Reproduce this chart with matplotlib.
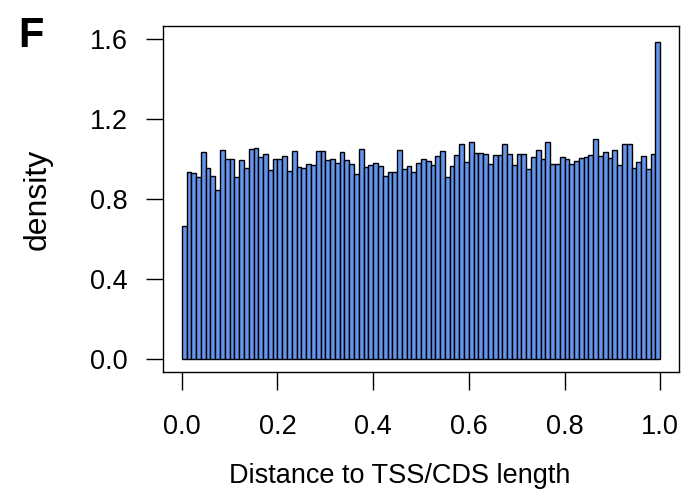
import matplotlib
matplotlib.use('Agg')
import matplotlib.pyplot as plt
import numpy as np

plt.rcParams['font.family'] = ['Liberation Sans', 'DejaVu Sans']

# histogram: 100 bins of width 0.01 on [0, 1]
bin_width = 0.01
bin_left = np.arange(100) * bin_width
density = [
    0.667, 0.938, 0.933, 0.913, 1.038, 0.955, 0.917, 0.845, 1.048, 1.000,
    1.000, 0.913, 0.997, 0.958, 1.050, 1.058, 1.010, 1.028, 0.948, 1.000,
    1.000, 1.017, 0.940, 1.040, 0.960, 0.955, 0.975, 0.970, 1.042, 1.042,
    0.995, 1.000, 0.983, 1.038, 0.995, 0.978, 0.928, 1.050, 0.960, 0.972,
    0.983, 0.968, 0.917, 0.937, 0.937, 1.047, 0.950, 0.967, 0.937, 0.980,
    1.000, 0.990, 0.972, 1.017, 1.042, 0.913, 0.965, 1.020, 1.075, 0.985,
    1.085, 1.033, 1.030, 1.027, 0.978, 1.022, 1.022, 1.075, 1.028, 0.972,
    1.025, 1.025, 0.952, 1.012, 1.047, 1.003, 1.085, 0.975, 0.977, 1.012,
    1.003, 0.975, 0.990, 1.005, 1.013, 1.022, 1.103, 1.017, 1.035, 1.008,
    1.045, 0.972, 1.077, 1.075, 0.958, 0.987, 1.017, 0.953, 1.028, 1.585,
]
x_ticks = [0.0, 0.2, 0.4, 0.6, 0.8, 1.0]
x_tick_labels = ['0.0', '0.2', '0.4', '0.6', '0.8', '1.0']
y_ticks = [0.0, 0.4, 0.8, 1.2, 1.6]
y_tick_labels = ['0.0', '0.4', '0.8', '1.2', '1.6']

W, H = 695, 498
fig = plt.figure(figsize=(W / 100, H / 100), dpi=100)
left, right, top, bottom = 162.6, 679.4, 26.5, 372.3
ax = fig.add_axes([left / W, 1 - bottom / H, (right - left) / W, (bottom - top) / H])

ax.bar(bin_left, density, width=bin_width, align='edge',
       color='#6495ED', edgecolor='black', linewidth=1.0)

ax.set_xlim(-0.04, 1.04)
ax.set_ylim(-0.064, 1.664)

ax.set_xticks(x_ticks)
ax.set_xticklabels(x_tick_labels)
ax.set_yticks(y_ticks)
ax.set_yticklabels(y_tick_labels)

ax.tick_params(axis='x', direction='out', length=13, width=1.0, pad=17,
               labelsize=19.5, colors='black')
ax.tick_params(axis='y', direction='out', length=12, width=1.0, pad=13,
               labelsize=19.5, colors='black')
for s in ax.spines.values():
    s.set_linewidth(1.0)
    s.set_color('black')

fig.text(400 / W, 1 - 476 / H, 'Distance to TSS/CDS length', ha='center',
         va='center', fontsize=19.5)
fig.text(38 / W, 1 - 199 / H, 'density', ha='center', va='center',
         rotation=90, fontsize=23)
fig.text(31 / W, 1 - 36 / H, 'F', ha='center', va='center',
         fontsize=30, fontweight='bold')

fig.savefig('out.png', dpi=100)
